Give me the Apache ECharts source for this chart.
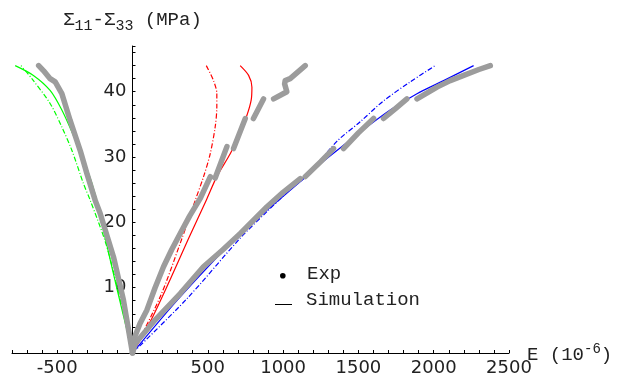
<!DOCTYPE html>
<html>
<head>
<meta charset="utf-8">
<script src="https://cdn.jsdelivr.net/npm/echarts@6/dist/echarts.min.js"></script>
<style>
  html, body { margin: 0; padding: 0; background: #fff; }
  #main { width: 619px; height: 378px; }
</style>
</head>
<body>
<div id="main"></div>
<script>
// strain E (1e-6) vs stress S11-S33 (MPa)
var simGreen = [[0,0],[-105,10],[-180,17.5],[-237,23.4],[-314,29.0],[-392,33.3],[-469,37.2],[-547,40.2],[-658,42.5],[-779,44]];
var simGreenDash = [[0,0],[-100,10],[-180,17],[-281,23.4],[-325,25.9],[-402,31.0],[-469,34.6],[-547,38.2],[-668,42.0],[-740,44]];
var simRed = [[0,0],[118,4.8],[251,11.3],[370,17.4],[490,23.4],[560,27.0],[649,30.5],[704,33.1],[760,36.4],[788,38.7],[793,40.7],[771,42.5],[715,44]];
var simRedDash = [[0,0],[184,8.6],[317,16.8],[417,23.4],[472,27.0],[516,30.5],[549,34.6],[560,37.7],[560,39.7],[538,41.7],[490,44]];
var simBlue = [[0,0],[317,8.6],[716,18.3],[915,22.3],[1113,26.2],[1260,29.2],[1401,31.8],[1557,34.6],[1711,37.2],[1889,39.7],[2066,41.7],[2265,44]];
var simBlueDash = [[0,0],[361,8.3],[716,17.6],[900,21.8],[1120,26.6],[1200,28.2],[1357,32.4],[1512,35.4],[1667,38.6],[1844,41.5],[2010,44]];

var expLeft = [[0,0],[-60,8.1],[-126,14.7],[-215,21.4],[-248,23.4],[-303,27.5],[-347,31.0],[-414,35.6],[-469,39.7],[-513,41.5],[-547,42],[-590,43.2],[-623,44]];
var expMid = [[0,0],[7,2],[50,4.5],[96,6.6],[150,10],[206,13.2],[260,15.8],[317,18.3],[380,21],[451,23.7],[517,27.0], null,
  [549,26.8],[627,31.6], null, [671,31.3],[749,35.9], null, [803,35.9],[870,38.9], null,
  [937,38.9],[1025,40],[1010,41.2],[1014,41.7],[1047,42],[1147,44]];
var expRight = [[0,0],[20,1.5],[140,4.8],[317,9.1],[471,13.2],[600,15.8],[716,18.3],[893,22.4],[1000,24.6],[1114,26.7], null,
  [1147,27],[1250,29.3],[1335,31.3], null, [1401,31.3],[1500,33.7],[1601,35.9], null,
  [1667,35.9],[1750,37.5],[1822,38.9], null, [1889,38.9],[2022,40.7],[2110,41.7],[2199,42.5],[2300,43.4],[2376,44]];

var xLabels = [-500, 500, 1000, 1500, 2000, 2500];
var yLabels = [10, 20, 30, 40];

var mono = 'Liberation Mono';
var sans = 'DejaVu Sans';
var gray = '#9c9c9c';
var gridLeft = 12;

function simLine(data, color, dashed) {
    return {
        type: 'line', data: data, showSymbol: false, smooth: 0.3,
        lineStyle: { color: color, width: 1.2, type: dashed ? [5, 2, 1, 2] : 'solid' },
        z: 2
    };
}
function expLine(data) {
    return {
        type: 'line', data: data, showSymbol: false, connectNulls: false,
        lineStyle: { color: gray, width: 5.5, cap: 'round', join: 'round' },
        z: 3
    };
}

var option = {
    animation: false,
    grid: { left: gridLeft, right: 110, top: 46, bottom: 25, containLabel: false, outerBoundsMode: 'none' },
    xAxis: {
        type: 'value', min: -800, max: 2500, interval: 100,
        splitLine: { show: false },
        axisLine: { onZero: false, lineStyle: { color: '#000', width: 1 } },
        axisTick: { inside: true, length: 3, lineStyle: { color: '#000' } },
        axisLabel: {
            interval: 0, margin: 6, color: '#222', fontFamily: sans, fontSize: 18,
            formatter: function (v) { return xLabels.indexOf(v) >= 0 ? String(v) : ''; }
        },
        name: '{a|E (10}{p|-6}{a|)}',
        nameLocation: 'end', nameGap: 18, nameMoveOverlap: false,
        nameTextStyle: {
            align: 'left', verticalAlign: 'middle', color: '#222', fontFamily: mono,
            rich: {
                a: { fontFamily: mono, fontSize: 19, color: '#222', lineHeight: 22, verticalAlign: 'bottom' },
                p: { fontFamily: mono, fontSize: 14, color: '#222', lineHeight: 16, verticalAlign: 'top' }
            }
        }
    },
    yAxis: {
        type: 'value', min: 0, max: 47, interval: 2, position: 'left', offset: 0,
        splitLine: { show: false },
        axisLine: { onZero: false, lineStyle: { color: '#000', width: 1 } },
        axisTick: { inside: true, length: 3, lineStyle: { color: '#000' } },
        axisLabel: {
            interval: 0, margin: 6, color: '#222', fontFamily: sans, fontSize: 18,
            formatter: function (v) { return yLabels.indexOf(v) >= 0 ? String(v) : ''; }
        },
        name: '{a|Σ}{s|11}{a|-Σ}{s|33}{a| (MPa)}',
        nameLocation: 'end', nameGap: 12, nameMoveOverlap: false,
        nameTextStyle: {
            align: 'center', color: '#222', fontFamily: mono,
            rich: {
                a: { fontFamily: mono, fontSize: 19, color: '#222', lineHeight: 24, verticalAlign: 'top' },
                s: { fontFamily: mono, fontSize: 15, color: '#222', lineHeight: 18, verticalAlign: 'bottom' }
            }
        }
    },
    graphic: [
        { type: 'circle', left: 280, top: 273, shape: { r: 2.8 }, style: { fill: '#000' } },
        { type: 'text', left: 307, top: 264, style: { text: 'Exp', font: '19px "Liberation Mono"', fill: '#222' } },
        { type: 'rect', left: 275, top: 304, shape: { width: 17, height: 1 }, style: { fill: '#000' } },
        { type: 'text', left: 306, top: 290, style: { text: 'Simulation', font: '19px "Liberation Mono"', fill: '#222' } }
    ],
    series: [
        simLine(simGreen, '#00ff00', false),
        simLine(simGreenDash, '#00ff00', true),
        simLine(simRed, '#ff0000', false),
        simLine(simRedDash, '#ff0000', true),
        simLine(simBlue, '#0000ff', false),
        simLine(simBlueDash, '#0000ff', true),
        expLine(expLeft),
        expLine(expMid),
        expLine(expRight)
    ]
};

var chart = echarts.init(document.getElementById('main'));
chart.setOption(option);
// put the stress axis through strain = 0, as in the figure
var zeroX = chart.convertToPixel({ xAxisIndex: 0 }, 0);
chart.setOption({ yAxis: { offset: gridLeft - zeroX } });
</script>
</body>
</html>
